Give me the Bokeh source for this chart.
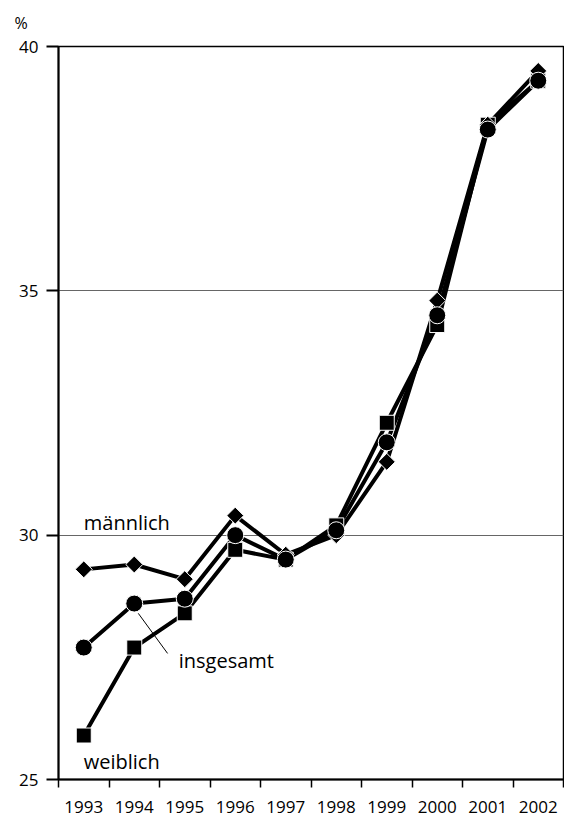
import math
from bokeh.plotting import figure
from bokeh.models import FixedTicker, Range1d
from bokeh.core.properties import value
from bokeh.embed import file_html
from bokeh.resources import INLINE

years = [1993, 1994, 1995, 1996, 1997, 1998, 1999, 2000, 2001, 2002]
maennlich = [29.3, 29.4, 29.1, 30.4, 29.6, 30.0, 31.5, 34.8, 38.4, 39.5]
insgesamt = [27.7, 28.6, 28.7, 30.0, 29.5, 30.1, 31.9, 34.5, 38.3, 39.3]
weiblich = [25.9, 27.7, 28.4, 29.7, 29.5, 30.2, 32.3, 34.3, 38.4, 39.3]
y_ticks = [25, 30, 35, 40]

FONT = "Open Sans"

p = figure(width=564, height=819, output_backend="svg", toolbar_location=None,
           x_range=Range1d(years[0] - 0.5, years[-1] + 0.5),
           y_range=Range1d(25, 40),
           min_border_left=58, min_border_right=1, min_border_top=46, min_border_bottom=40)

p.title.text = "%"
p.title.align = "left"
p.title.offset = -44
p.title.vertical_align = "top"
p.title.text_font = FONT
p.title.text_font_size = "16px"
p.title.text_font_style = "normal"
p.title.text_color = "black"
p.title.standoff = 22

p.background_fill_color = "white"
p.border_fill_color = "white"
p.outline_line_color = "black"
p.outline_line_width = 1.5

boundaries = [y - 0.5 for y in years] + [years[-1] + 0.5]
p.xaxis.ticker = FixedTicker(ticks=years, minor_ticks=boundaries)
p.xaxis.major_tick_out = 0
p.xaxis.major_tick_in = 0
p.xaxis.minor_tick_out = 8
p.xaxis.minor_tick_in = 0
p.xaxis.minor_tick_line_color = "black"
p.xaxis.minor_tick_line_width = 1.5
p.xaxis.axis_line_width = 2
p.xaxis.major_label_standoff = 13
p.xaxis.major_label_text_font = FONT
p.xaxis.major_label_text_font_size = "17px"
p.xaxis.major_label_text_color = "black"

p.yaxis.ticker = FixedTicker(ticks=y_ticks)
p.yaxis.major_tick_out = 12
p.yaxis.major_tick_in = 0
p.yaxis.major_tick_line_width = 2
p.yaxis.minor_tick_out = 0
p.yaxis.minor_tick_in = 0
p.yaxis.axis_line_width = 2
p.yaxis.major_label_standoff = 8
p.yaxis.major_label_text_font = FONT
p.yaxis.major_label_text_font_size = "17px"
p.yaxis.major_label_text_color = "black"

p.xgrid.grid_line_color = None
p.ygrid.ticker = FixedTicker(ticks=[30, 35])
p.ygrid.grid_line_color = "#666666"
p.ygrid.grid_line_width = 1.2

LW = 4
p.line(years, weiblich, line_color="black", line_width=LW)
p.line(years, maennlich, line_color="black", line_width=LW)
p.line(years, insgesamt, line_color="black", line_width=LW)

p.scatter(years, weiblich, marker="square", size=15, fill_color="black",
          line_color="white", line_width=1)
p.scatter(years, maennlich, marker="square", size=12, angle=math.pi / 4,
          fill_color="black", line_color="white", line_width=1)
p.scatter(years, insgesamt, marker="circle", size=17, fill_color="black",
          line_color="white", line_width=1)

p.segment(x0=[1994.08], y0=[28.40], x1=[1994.66], y1=[27.58],
          line_color="black", line_width=1)

p.text(x=[1993, 1994.88, 1993], y=[30.26, 27.43, 25.37],
       text=["männlich", "insgesamt", "weiblich"],
       text_font=value(FONT), text_font_size="20px", text_color="black",
       text_align="left", text_baseline="middle")

open("out.html", "w").write(file_html(p, INLINE))
